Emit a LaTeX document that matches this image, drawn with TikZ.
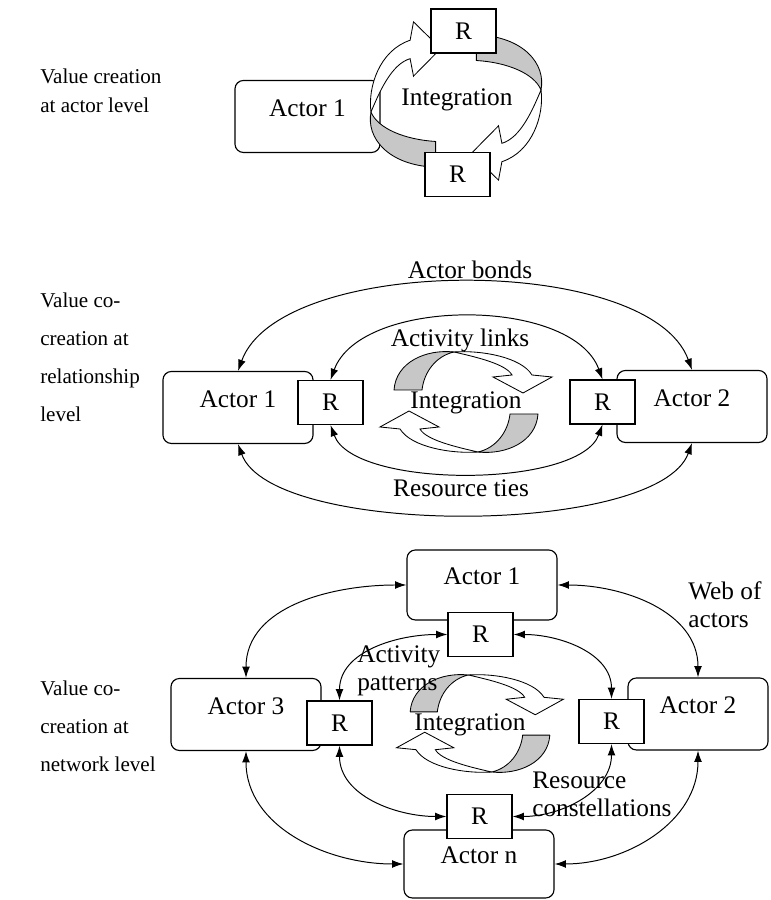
\documentclass[tikz,border=0pt]{standalone}
\usepackage{fontspec}
\setmainfont{Liberation Serif}
\usetikzlibrary{arrows.meta}

\begin{document}
\begin{tikzpicture}[
    x=0.025cm, y=0.025cm,
    >={Latex[length=8pt, width=5.5pt]},
    font=\fontsize{18}{21}\selectfont
]

    % Global styles
    \tikzset{
        actor/.style={draw, rounded corners=6pt, fill=white, line width=0.8pt,
            minimum width=3.75cm, minimum height=1.8cm, text height=12pt, text depth=12pt},
        res/.style={draw, fill=white, line width=0.8pt, minimum width=1.625cm, minimum height=1.1cm},
        tie/.style={<->, line width=0.7pt},
        lvl/.style={anchor=west, align=left, inner sep=0pt, font=\fontsize{15}{27}\selectfont},
        note/.style={anchor=west, align=left, inner sep=0pt, font=\fontsize{18}{20}\selectfont},
        cyclepair/.pic={
            \foreach \turn in {0,180} {
                \begin{scope}[rotate=\turn]
                    % grey back of the band
                    \path[draw, fill=black!22, line width=0.6pt] (-72,12) -- (-44,12)
                        .. controls (-42,30) and (-30,46) .. (-12,50)
                        .. controls (-40,53) and (-70,40) .. cycle;
                    % white front of the band, with its head
                    \path[draw, fill=white, line width=0.6pt] (-12,50)
                        .. controls (15,52) and (55,45) .. (66,27)
                        -- (86,25) -- (57,9) -- (27,25) -- (46,27)
                        .. controls (40,38) and (10,45) .. cycle;
                \end{scope}
            }
        }
    }

    \useasboundingbox (0,0) rectangle (770,900);

    % Actor level
    \node[lvl, font=\fontsize{15}{20.5}\selectfont] (lvl1) at (40,809.5) {Value creation\\at actor level};
    \node[actor, minimum width=3.625cm] (s1a1) at (307.5,783.5) {Actor 1};
    \pic[xscale=1.7, yscale=0.92, rotate=90] at (456,799) {cyclepair};
    \node[res] (s1rt) at (463.5,869) {R};
    \node[res] (s1rb) at (457.5,725.5) {R};
    \node (s1int) at (457,800) {Integration};

    % Relationship level
    \node[lvl] (lvl2) at (40,543) {Value co-\\creation at\\relationship\\level};
    \node[actor] (s2a1) at (238,492.5) {Actor 1};
    \node[actor] (s2a2) at (692,493.5) {Actor 2};
    \node[res] (s2r1) at (330.5,497.5) {R};
    \node[res] (s2r2) at (602.5,498) {R};
    \pic at (466,498) {cyclepair};
    \node (s2int) at (466,497) {Integration};
    \node (bonds) at (470,630) {Actor bonds};
    \node (links) at (460,560) {Activity links};
    \node (ties) at (461,412) {Resource ties};

    % Bonds, links and ties
    \draw[tie] (s2a1.north) to[out=70, in=110, looseness=0.7] (s2a2.north);
    \draw[tie] (s2r1.north) to[out=70, in=110, looseness=0.83] (s2r2.north);
    \draw[tie] (s2r1.south) to[out=-70, in=-110, looseness=0.64] (s2r2.south);
    \draw[tie] (s2a1.south) to[out=-70, in=-110, looseness=0.56] (s2a2.south);

    % Network level
    \node[lvl] (lvl3) at (40,174) {Value co-\\creation at\\network level};
    \node[actor, minimum height=1.75cm] (s3a1) at (482,315) {Actor 1};
    \node[actor] (s3a3) at (246,185.5) {Actor 3};
    \node[actor, minimum width=3.5cm] (s3a2) at (698,186) {Actor 2};
    \node[actor, minimum height=1.7cm] (s3an) at (479,36) {Actor n};
    \node[res] (s3rt) at (480.5,265.5) {R};
    \node[res] (s3rl) at (339.5,177) {R};
    \node[res] (s3rr) at (611.5,178.5) {R};
    \node[res] (s3rb) at (479.5,83.5) {R};
    \pic[scale=0.97] at (480,176.5) {cyclepair};
    \node (s3int) at (470,175) {Integration};
    \node[note] (web) at (688,295) {Web of\\actors};
    \node[note] (patt) at (357,229) {Activity\\patterns};
    \node[note] (cons) at (532,106) {Resource\\constellations};

    % Web of actors
    \draw[tie] (s3a3.north) to[out=90, in=180] (s3a1.west);
    \draw[tie] (s3a1.east) to[out=0, in=90] (s3a2.north);
    \draw[tie] (s3a3.south) to[out=-90, in=180] (s3an.west);
    \draw[tie] (s3a2.south) to[out=-90, in=0] (s3an.east);
    % Resource constellations
    \draw[tie] (s3rl.north) to[out=90, in=180] (s3rt.west);
    \draw[tie] (s3rt.east) to[out=0, in=90] (s3rr.north);
    \draw[tie] (s3rl.south) to[out=-90, in=180] (s3rb.west);
    \draw[tie] (s3rr.south) to[out=-90, in=0] (s3rb.east);

\end{tikzpicture}
\end{document}
